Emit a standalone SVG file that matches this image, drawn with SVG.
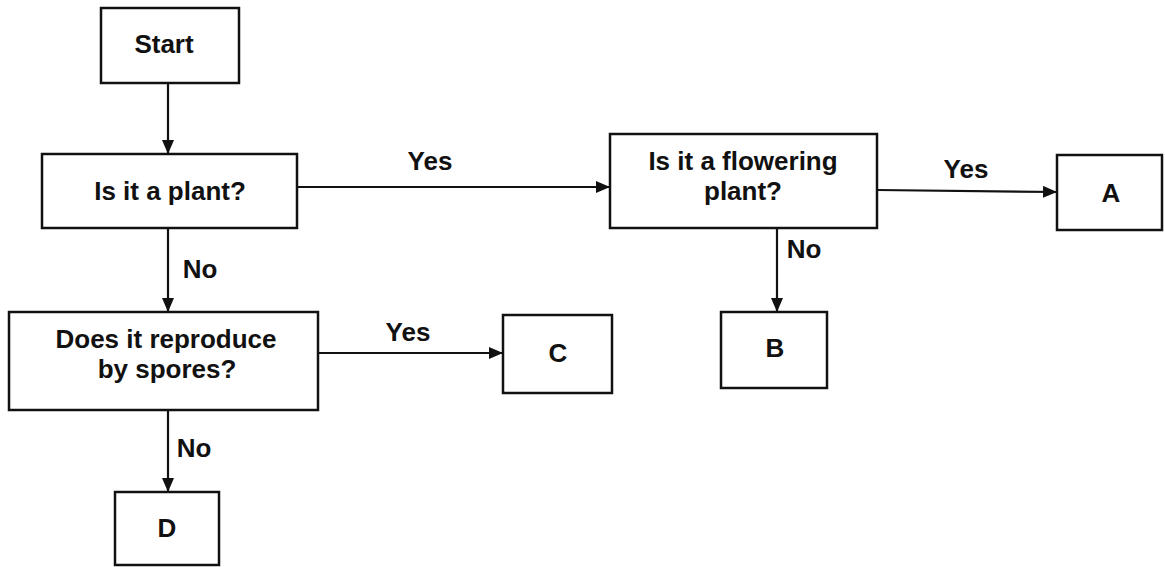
<svg xmlns="http://www.w3.org/2000/svg" width="1165" height="567" viewBox="0 0 1165 567">
  <style>
    .box { fill: #fff; stroke: #111; stroke-width: 2.5; }
    .lbl { font-family: "Liberation Sans", Arial, sans-serif; font-weight: bold; font-size: 26px; fill: #111; text-anchor: middle; }
    .edge { stroke: #111; stroke-width: 2.2; fill: none; marker-end: url(#arrow); }
  </style>
  <defs>
    <marker id="arrow" viewBox="0 0 14 12" refX="14" refY="6" markerWidth="14" markerHeight="12" markerUnits="userSpaceOnUse" orient="auto">
      <path d="M0,0 L14,6 L0,12 Z" fill="#111"/>
    </marker>
  </defs>
  <rect width="1165" height="567" fill="#fff"/>

  <g id="connectors">
    <line class="edge" x1="168" y1="83" x2="168" y2="154"/>
    <line class="edge" x1="297" y1="187" x2="610" y2="187"/>
    <line class="edge" x1="168" y1="228" x2="168" y2="312"/>
    <line class="edge" x1="318" y1="353" x2="503" y2="353"/>
    <line class="edge" x1="168" y1="410" x2="168" y2="492"/>
    <line class="edge" x1="877" y1="190" x2="1057" y2="192"/>
    <line class="edge" x1="777" y1="228" x2="777" y2="312"/>
    <text class="lbl" x="430" y="170">Yes</text>
    <text class="lbl" x="200" y="278">No</text>
    <text class="lbl" x="408" y="341">Yes</text>
    <text class="lbl" x="194" y="457">No</text>
    <text class="lbl" x="966" y="178">Yes</text>
    <text class="lbl" x="804" y="258">No</text>
  </g>

  <g id="start">
    <rect class="box" x="101" y="8" width="138" height="75"/>
    <text class="lbl" x="164" y="53">Start</text>
  </g>
  <g id="is-plant">
    <rect class="box" x="42" y="154" width="255" height="74"/>
    <text class="lbl" x="170" y="200">Is it a plant?</text>
  </g>
  <g id="spores">
    <rect class="box" x="9" y="312" width="309" height="98"/>
    <text class="lbl" x="166" y="348">Does it reproduce</text>
    <text class="lbl" x="167" y="378">by spores?</text>
  </g>
  <g id="flowering">
    <rect class="box" x="610" y="134" width="267" height="94"/>
    <text class="lbl" x="743" y="170">Is it a flowering</text>
    <text class="lbl" x="743" y="200">plant?</text>
  </g>
  <g id="node-a">
    <rect class="box" x="1057" y="155" width="105" height="75"/>
    <text class="lbl" x="1111" y="202">A</text>
  </g>
  <g id="node-b">
    <rect class="box" x="721" y="312" width="106" height="76"/>
    <text class="lbl" x="775" y="357">B</text>
  </g>
  <g id="node-c">
    <rect class="box" x="503" y="315" width="109" height="78"/>
    <text class="lbl" x="558" y="362">C</text>
  </g>
  <g id="node-d">
    <rect class="box" x="115" y="492" width="104" height="73"/>
    <text class="lbl" x="167" y="537">D</text>
  </g>
</svg>
